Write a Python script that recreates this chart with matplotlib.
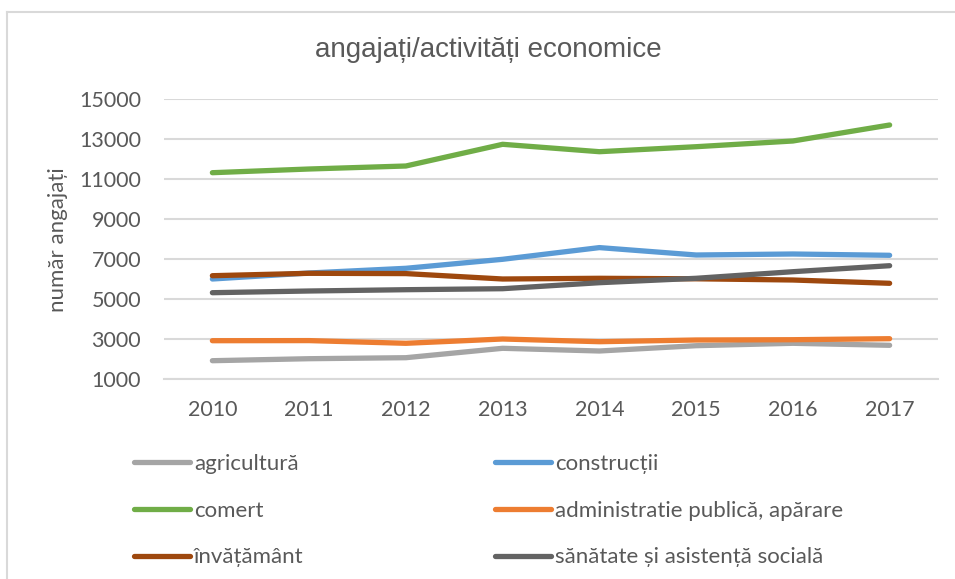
import matplotlib
matplotlib.use("Agg")
import matplotlib.pyplot as plt
from matplotlib.lines import Line2D

years = ["2010", "2011", "2012", "2013", "2014", "2015", "2016", "2017"]
agricultura = [1915, 2015, 2065, 2535, 2400, 2665, 2785, 2685]
constructii = [6000, 6300, 6535, 6985, 7570, 7200, 7250, 7185]
comert = [11315, 11500, 11650, 12735, 12365, 12615, 12900, 13700]
administratie = [2915, 2920, 2785, 3000, 2865, 2950, 2965, 3015]
invatamant = [6165, 6285, 6270, 6000, 6035, 6010, 5950, 5785]
sanatate = [5315, 5400, 5465, 5515, 5815, 6035, 6365, 6665]

labels = ["agricultură", "construcții", "comert", "administratie publică, apărare",
          "învățământ", "sănătate și asistență socială"]
series = [agricultura, constructii, comert, administratie, invatamant, sanatate]
colors = ["#A5A5A5", "#5B9BD5", "#70AD47", "#ED7D31", "#9E480E", "#636363"]

yticks = [1000, 3000, 5000, 7000, 9000, 11000, 13000, 15000]
title = "angajați/activități economice"
ylabel = "număr angajați"

W, H = 955, 579
fig = plt.figure(figsize=(W / 100, H / 100), dpi=100)
txt = "#595959"
font = ["Lato", "DejaVu Sans"]

ax = fig.add_axes([164 / W, 1 - 379 / H, (938 - 164) / W, (379 - 99) / H])
x = list(range(len(years)))
handles = []
for vals, lab, c in zip(series, labels, colors):
    h, = ax.plot(x, vals, color=c, lw=3.8, solid_capstyle="round",
                 solid_joinstyle="round", label=lab)
    handles.append(h)

ax.set_xlim(-0.5, len(years) - 0.5)
ax.set_ylim(1000, 15000)
ax.set_yticks(yticks)
ax.set_yticklabels([str(v) for v in yticks], family=font, fontsize=15.5, color=txt)
ax.set_xticks(x)
ax.set_xticklabels(years, family=font, fontsize=15.5, color=txt)
ax.tick_params(length=0)
ax.tick_params(axis="y", pad=16.5)
ax.tick_params(axis="x", pad=15)
ax.grid(axis="y", color="#D9D9D9", lw=1.5)
ax.set_axisbelow(True)
for s in ["top", "right", "left"]:
    ax.spines[s].set_visible(False)
ax.spines["bottom"].set_color("#D9D9D9")
ax.spines["bottom"].set_linewidth(1.5)

fig.text(58 / W, 1 - 240 / H, ylabel, rotation=90, ha="center", va="center",
         family=font, fontsize=16, color=txt)
fig.text(488 / W, 1 - 50 / H, title, ha="center", va="center",
         family=["Liberation Sans", "DejaVu Sans"], fontsize=20, color=txt)

order1 = [0, 2, 4]
order2 = [1, 3, 5]
for order, xpos in [(order1, 134), (order2, 495)]:
    fig.legend([handles[i] for i in order], [labels[i] for i in order],
               loc="upper left", bbox_to_anchor=(xpos / W, 1 - 454 / H),
               frameon=False, ncol=1, handlelength=2.5, handletextpad=0.2,
               labelspacing=1.2, borderaxespad=0, borderpad=0,
               prop={"family": font, "size": 16}, labelcolor=txt)

fig.add_artist(Line2D([7 / W, 7 / W], [0, 1 - 12 / H], transform=fig.transFigure,
                      color="#D9D9D9", lw=1.5))
fig.add_artist(Line2D([7 / W, 1], [1 - 12 / H, 1 - 12 / H], transform=fig.transFigure,
                      color="#D9D9D9", lw=1.5))

fig.savefig("out.png", dpi=100, facecolor="white")
